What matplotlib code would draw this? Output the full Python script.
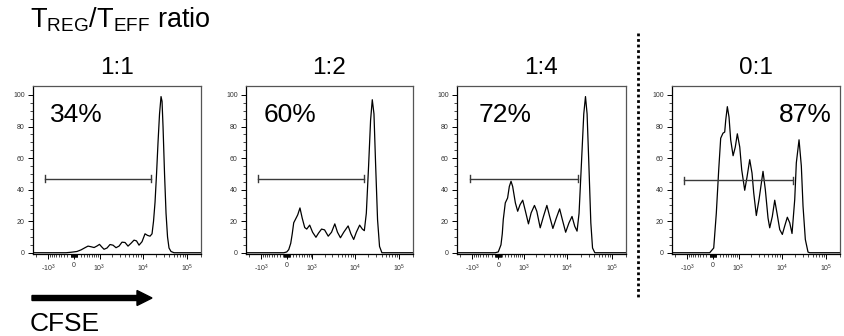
import matplotlib
matplotlib.use("Agg")
import matplotlib.pyplot as plt
from matplotlib.patches import FancyArrow
import numpy as np

plt.rcParams['font.family'] = ['Liberation Sans', 'DejaVu Sans']
plt.rcParams['mathtext.fontset'] = 'custom'
plt.rcParams['mathtext.rm'] = 'Liberation Sans'
plt.rcParams['mathtext.it'] = 'Liberation Sans:italic'
plt.rcParams['mathtext.bf'] = 'Liberation Sans:bold'

# ratios and gated percentages
ratios = ["1:1", "1:2", "1:4", "0:1"]
percents = ["34%", "60%", "72%", "87%"]

# CFSE histograms (CFSE intensity, % of max)
x_11 = [-2350, -243, -89, 89, 211, 343, 451, 570, 706, 855, 991, 1149, 1290, 1525,
        1795, 2112, 2480, 2910, 3400, 3985, 4660, 5450, 6370, 7250, 8260, 9650,
        11280, 12840, 14620, 16220, 17530, 18950, 20490, 22130, 23920, 25860,
        27240, 28680, 31000, 33500, 36220, 39100, 43380, 50700, 205000]
y_11 = [0, 0, 0.3, 0.8, 1.8, 3.2, 4.2, 3.8, 3.3, 4.3, 5.3, 3.5, 2.2, 3.0,
        5.2, 4.8, 3.2, 4.2, 6.7, 6.5, 4.2, 6.0, 8.0, 7.5, 4.8, 7,
        12, 11, 10.5, 12, 20, 32, 50, 70, 88, 99,
        96, 80, 50, 25, 10, 3, 0.8, 0, 0]

x_12 = [-2350, -89, 0, 59, 119, 165, 211, 276, 343, 424, 509, 614, 706, 855,
        1021, 1242, 1442, 1700, 2004, 2440, 2910, 3460, 3985, 4660, 5535, 6205,
        6960, 8055, 9310, 10700, 12710, 14620, 16220, 18000, 20260, 22480, 24560,
        26810, 29130, 32320, 35820, 40580, 205000]
y_12 = [0, 0, 0.5, 2, 6, 12, 19, 21.5, 24, 28.4, 22, 16, 15, 17.5,
        13, 9.8, 12.5, 15, 14.5, 10.5, 13, 18.3, 13, 9.5, 13, 15,
        17, 12, 8.4, 13, 17.5, 15, 14, 25, 55, 84, 97,
        88, 57, 21, 4, 0, 0]

x_14 = [-2350, -89, 0, 80, 119, 149, 211, 285, 343, 403, 463, 570, 670, 784,
        924, 1086, 1290, 1498, 1795, 2035, 2440, 2910, 3460, 3985, 4730, 5655,
        6715, 7720, 9160, 10890, 12710, 14620, 16480, 18270, 20690, 23300, 25450,
        27650, 30200, 33500, 36590, 41200, 205000]
y_14 = [0, 0, 0.5, 5, 12, 21, 31.6, 34.7, 42, 45.3, 42, 31.6, 26.3, 30.5,
        33.3, 26.3, 18.3, 25.3, 30, 26.3, 15.8, 23.2, 30, 23.2, 15.4, 22,
        27.8, 21, 13, 19, 23, 16.8, 13.7, 25, 57, 88, 99,
        88, 57, 19, 3, 0, 0]

x_01 = [-2350, -98, 21, 98, 171, 233, 308, 367, 403, 463, 529, 598, 706, 814,
        924, 1068, 1196, 1418, 1611, 1866, 2112, 2313, 2657, 3064, 3780, 4265,
        4910, 5363, 6140, 6960, 7840, 9025, 10330, 11700, 13390, 15160, 17080,
        19640, 21340, 24560, 27650, 30200, 34030, 39100, 42700, 205000]
y_01 = [0, 0, 3, 25, 52.6, 72.6, 75.8, 76.5, 84, 92.6, 86, 71.6, 61.5, 67,
        75.4, 67, 52.6, 39.6, 48, 59, 50.5, 38, 23.6, 33.7, 51.6, 40,
        22, 15.8, 23, 33.3, 25, 14.7, 11.6, 17, 22.5, 19, 12.2,
        33.7, 57, 71.6, 55, 29.5, 8.4, 0.4, 0, 0]

# gate bars: (start, end, height)
gate_lo = [-1210, -1190, -1150, -1240]
gate_hi = [15400, 15600, 17080, 17600]
gate_y = [47, 47, 47, 46]

xs = [x_11, x_12, x_14, x_01]
ys = [y_11, y_12, y_14, y_01]

W = 570.0
def fwd(x):
    return np.arcsinh(np.asarray(x) / W)
def inv(u):
    return W * np.sinh(np.asarray(u))

major_ticks = [-1000, 0, 1000, 10000, 100000]
major_labels = ['-10$^3$', '0', '10$^3$', '10$^4$', '10$^5$']
minor_ticks = ([-m * 10 for m in range(1, 10)] + [-m * 100 for m in range(1, 10)] + [-2000]
               + [m * 10 for m in range(1, 10)] + [m * 100 for m in range(1, 10)]
               + [m * 1000 for m in range(2, 10)] + [m * 10000 for m in range(2, 10)]
               + [200000])

fig = plt.figure(figsize=(8.44, 3.36), dpi=100)
lefts = [33, 246, 457, 672]
widths = [168, 167, 169, 168]
pct_x = [0.10, 0.108, 0.13, 0.952]
pct_ha = ['left', 'left', 'left', 'right']

for i in range(4):
    ax = fig.add_axes([lefts[i] / 844, (336 - 254) / 336, widths[i] / 844, 168 / 336])
    ax.set_xscale('function', functions=(fwd, inv))
    ax.plot(xs[i], ys[i], color='black', lw=0.9, solid_joinstyle='round')
    ax.set_xlim(-2350, 205000)
    ax.set_ylim(-0.8, 105.7)

    # gate
    gc = '#3a3a3a'
    ax.plot([gate_lo[i], gate_hi[i]], [gate_y[i], gate_y[i]], color=gc, lw=1.0)
    for gx in (gate_lo[i], gate_hi[i]):
        ax.plot([gx, gx], [gate_y[i] - 2.2, gate_y[i] + 2.2], color=gc, lw=1.0)

    ax.text(pct_x[i], 0.827, percents[i], transform=ax.transAxes, fontsize=19,
            ha=pct_ha[i], va='center')

    ax.set_xticks(major_ticks)
    ax.set_xticklabels(major_labels)
    ax.set_xticks(minor_ticks, minor=True)
    ax.set_yticks([0, 20, 40, 60, 80, 100])
    ax.set_yticks(np.arange(0, 101, 5), minor=True)
    ax.tick_params(axis='both', which='major', length=3.5, width=0.7, labelsize=5,
                   labelcolor='#333333', pad=2.5)
    ax.tick_params(axis='both', which='minor', length=2, width=0.5)
    for s in ('left', 'bottom'):
        ax.spines[s].set_linewidth(0.9)
    for s in ('top', 'right'):
        ax.spines[s].set_color('#555555')
        ax.spines[s].set_linewidth(0.9)

    cx = (lefts[i] + widths[i] / 2) / 844
    fig.text(cx, 1 - 74 / 336, ratios[i], fontsize=17.5, ha='center', va='baseline')

fig.text(30 / 844, 1 - 28 / 336, r'T$_{\mathrm{REG}}$/T$_{\mathrm{EFF}}$ ratio',
         fontsize=19.5, ha='left', va='baseline')

# dotted separator
fig.add_artist(plt.Line2D([638 / 844, 638 / 844], [1 - 33 / 336, 1 - 298 / 336],
                          color='black', lw=2, linestyle=(0, (1, 1))))

# CFSE arrow
fig.add_artist(FancyArrow(32 / 844, 1 - 298 / 336, 120 / 844, 0, width=5 / 336,
                          head_width=15 / 336, head_length=15 / 844,
                          length_includes_head=True, color='black',
                          transform=fig.transFigure))
fig.text(30 / 844, 1 - 331 / 336, 'CFSE', fontsize=19, ha='left', va='baseline')

fig.savefig('out.png', dpi=100)
